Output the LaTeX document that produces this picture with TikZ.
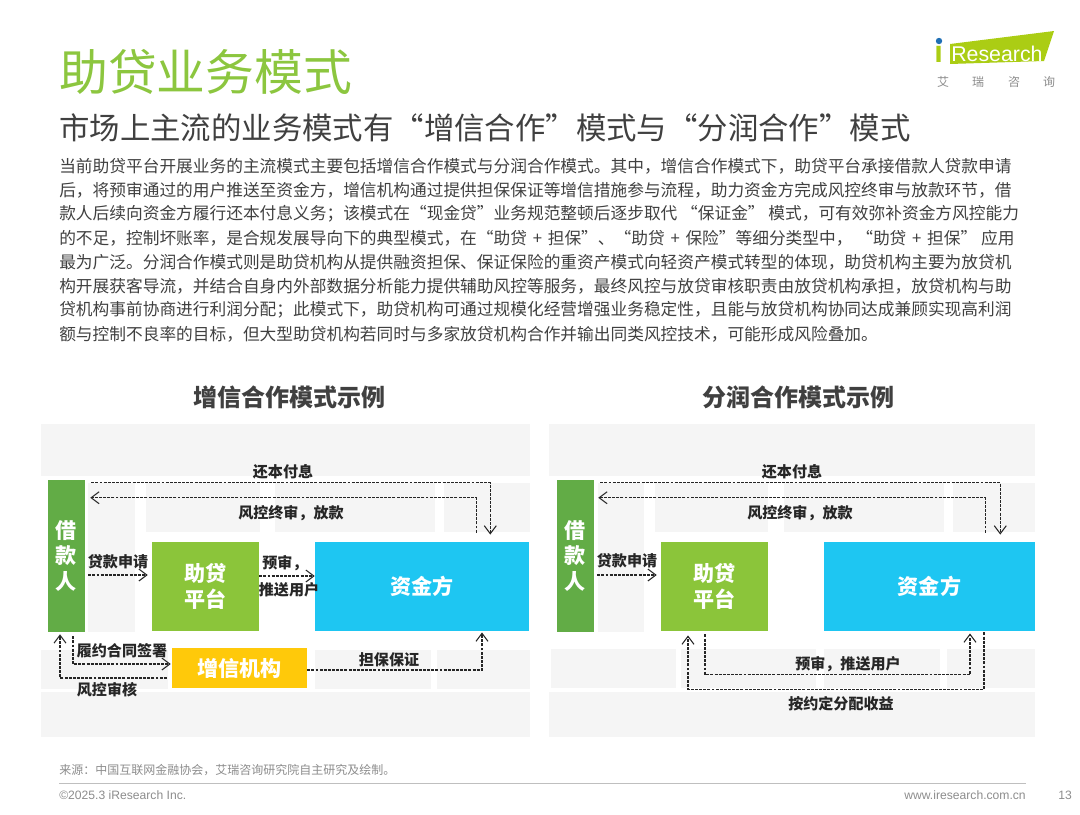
\documentclass[tikz,border=0pt]{standalone}
\usepackage{fontspec}
\setmainfont{Noto Sans CJK SC}
\newfontfamily\latinfont{Liberation Sans}
\usepackage{tikz}
\usetikzlibrary{arrows.meta, positioning}
\definecolor{titlegreen}{HTML}{8CC63F}
\definecolor{bodygrey}{HTML}{404040}
\definecolor{patchgrey}{HTML}{F5F5F5}
\definecolor{footgrey}{HTML}{8C8C8C}
\definecolor{lendgreen}{HTML}{62AC46}
\definecolor{platgreen}{HTML}{8BC53A}
\definecolor{fundblue}{HTML}{1EC6F2}
\definecolor{credyellow}{HTML}{FFC90A}
\definecolor{logogreen}{HTML}{ABCD14}
\definecolor{logoblue}{HTML}{1F6FB5}
\def\dou{^^^^ff0c}
\def\fen{^^^^ff1b}
\def\mao{^^^^ff1a}
\def\jia{\hspace{1.5pt} + \hspace{1.5pt}}

\begin{document}
\begin{tikzpicture}[x=0.75pt, y=-0.75pt, >={Straight Barb[length=6pt,width=9pt]},
    block/.style={fill=#1, text=white, font=\bfseries\fontsize{15.8}{19}\selectfont, align=center, inner sep=0pt},
    flow/.style={draw=black!85, line width=0.8pt, dash pattern=on 2.2pt off 0.9pt},
    tag/.style={font=\bfseries\fontsize{11.3}{13}\selectfont, text=black!85, inner sep=0pt, align=center},
    head/.style={font=\bfseries\fontsize{18}{22}\selectfont, text=bodygrey, inner sep=0pt},
    body/.style={anchor=west, font=\fontsize{12.53}{18}\selectfont, text=bodygrey, inner sep=0pt},
    foot/.style={font=\fontsize{9}{11}\selectfont, text=footgrey, inner sep=0pt}]
    \useasboundingbox (0,0) rectangle (1080,814);

    % title
    \node [anchor=west, inner sep=0pt, text=titlegreen, font=\fontsize{36.6}{44}\selectfont] (title) at (59,72) {助贷业务模式};
    \node [anchor=west, inner sep=0pt, text=bodygrey, font=\fontsize{22.8}{28}\selectfont] (subtitle) at (59,128) {市场上主流的业务模式有“增信合作”模式与“分润合作”模式};

    % logo
    \fill [logogreen] (950,44) -- (1054,31) -- (1044,61) -- (950,64) -- cycle;
    \fill [logoblue] (939,41) circle (3.2);
    \node [anchor=base west, inner sep=0pt, text=logogreen, font=\latinfont\bfseries\fontsize{23}{26}\selectfont] (logoi) at (934,62) {ı};
    \node [anchor=base west, inner sep=0pt, text=white, font=\latinfont\fontsize{16}{19}\selectfont] (logotext) at (951,61) {Research};
    \node [inner sep=0pt, text=footgrey, font=\fontsize{9}{11}\selectfont] (logoa) at (943,82) {艾};
    \node [inner sep=0pt, text=footgrey, font=\fontsize{9}{11}\selectfont] (logob) at (978,82) {瑞};
    \node [inner sep=0pt, text=footgrey, font=\fontsize{9}{11}\selectfont] (logoc) at (1014,82) {咨};
    \node [inner sep=0pt, text=footgrey, font=\fontsize{9}{11}\selectfont] (logod) at (1049,82) {询};

    % body text
    \node [body] (l1) at (59,166) {当前助贷平台开展业务的主流模式主要包括增信合作模式与分润合作模式。其中\dou{}增信合作模式下\dou{}助贷平台承接借款人贷款申请};
    \node [body] (l2) at (59,190) {后\dou{}将预审通过的用户推送至资金方\dou{}增信机构通过提供担保保证等增信措施参与流程\dou{}助力资金方完成风控终审与放款环节\dou{}借};
    \node [body] (l3) at (59,214) {款人后续向资金方履行还本付息义务\fen{}该模式在“现金贷”业务规范整顿后逐步取代 “保证金” 模式\dou{}可有效弥补资金方风控能力};
    \node [body] (l4) at (59,238) {的不足\dou{}控制坏账率\dou{}是合规发展导向下的典型模式\dou{}在“助贷\jia{}担保”、“助贷\jia{}保险”等细分类型中\dou{} “助贷\jia{}担保” 应用};
    \node [body] (l5) at (59,262) {最为广泛。分润合作模式则是助贷机构从提供融资担保、保证保险的重资产模式向轻资产模式转型的体现\dou{}助贷机构主要为放贷机};
    \node [body] (l6) at (59,286) {构开展获客导流\dou{}并结合自身内外部数据分析能力提供辅助风控等服务\dou{}最终风控与放贷审核职责由放贷机构承担\dou{}放贷机构与助};
    \node [body] (l7) at (59,310) {贷机构事前协商进行利润分配\fen{}此模式下\dou{}助贷机构可通过规模化经营增强业务稳定性\dou{}且能与放贷机构协同达成兼顾实现高利润};
    \node [body] (l8) at (59,334) {额与控制不良率的目标\dou{}但大型助贷机构若同时与多家放贷机构合作并输出同类风控技术\dou{}可能形成风险叠加。};

    \node [head] (headl) at (289,397) {增信合作模式示例};
    \node [head] (headr) at (798,397) {分润合作模式示例};

    % grey patches behind the charts
    \foreach \xa/\ya/\xb/\yb in {41/424/530/476, 88/483/135/632, 146/483/260/532, 275/483/435/532, 444/483/530/532,
        41/650/168/689, 315/650/431/689, 437/650/530/689, 41/692/530/737,
        549/424/1035/476, 598/483/644/632, 655/483/768/532, 784/483/944/532, 953/483/1035/532,
        551/649/676/688, 681/649/816/688, 824/649/940/688, 947/649/1035/688, 549/692/1035/737}
        \fill [patchgrey] (\xa,\ya) rectangle (\xb,\yb);

    % left chart
    \node [block=lendgreen, minimum width=27.75pt, minimum height=114pt] (bor1) at (66.5,556) {借\\款\\人};
    \node [block=platgreen, minimum width=80.25pt, minimum height=67pt] (plat1) at (205.5,586.5) {助贷\\平台};
    \node [block=fundblue, minimum width=160.5pt, minimum height=67pt] (fund1) at (422,586.5) {资金方};
    \node [block=credyellow, minimum width=101.25pt, minimum height=30pt] (cred) at (239.5,668) {增信机构};

    \node [tag] (t1) at (283,472) {还本付息};
    \node [tag] (t2) at (291,513) {风控终审\dou{}放款};
    \node [tag] (t3) at (118,562) {贷款申请};
    \node [tag] (t4) at (285,563) {预审\dou};
    \node [tag] (t5) at (289,590) {推送用户};
    \node [tag] (t6) at (122,651) {履约合同签署};
    \node [tag] (t7) at (107,690) {风控审核};
    \node [tag] (t8) at (389,660) {担保保证};

    \draw [flow, ->] ([shift={(6,3)}]bor1.north east) -| ([shift={(-39,-7)}]fund1.north east);
    \draw [flow, ->] ([shift={(-53,-9)}]fund1.north east) |- ([shift={(5,18)}]bor1.north east);
    \draw [flow, ->] ([shift={(3,19)}]bor1.east) -- ([shift={(-4,-11.5)}]plat1.west);
    \draw [flow, ->] ([shift={(0,-10.5)}]plat1.east) -- ([shift={(0,-10.5)}]fund1.west);
    \draw [flow, ->] ([shift={(6.5,4)}]bor1.south) |- ([shift={(-1,-4)}]cred.west);
    \draw [flow, ->] ([shift={(-5,10)}]cred.west) -| ([shift={(-6.5,2)}]bor1.south);
    \draw [flow, ->] ([shift={(0,2)}]cred.east) -| ([shift={(60,1)}]fund1.south);

    % right chart
    \node [block=lendgreen, minimum width=27.75pt, minimum height=114pt] (bor2) at (575.5,556) {借\\款\\人};
    \node [block=platgreen, minimum width=80.25pt, minimum height=67pt] (plat2) at (714.5,586.5) {助贷\\平台};
    \node [block=fundblue, minimum width=158.25pt, minimum height=67pt] (fund2) at (929.5,586.5) {资金方};

    \node [tag] (t9) at (792,472) {还本付息};
    \node [tag] (t10) at (800,513) {风控终审\dou{}放款};
    \node [tag] (t11) at (627,561) {贷款申请};
    \node [tag] (t12) at (848,664) {预审\dou{}推送用户};
    \node [tag] (t13) at (841,704) {按约定分配收益};

    \draw [flow, ->] ([shift={(6,3)}]bor2.north east) -| ([shift={(-35,-7)}]fund2.north east);
    \draw [flow, ->] ([shift={(-50,-9)}]fund2.north east) |- ([shift={(4,18)}]bor2.north east);
    \draw [flow, ->] ([shift={(3,19)}]bor2.east) -- ([shift={(-4,-11.5)}]plat2.west);
    \draw [flow, ->] ([shift={(-9.5,3)}]plat2.south) -- ++(0,40) -| ([shift={(40.5,2)}]fund2.south);
    \draw [flow, ->] ([shift={(54.5,1)}]fund2.south) -- ++(0,57) -| ([shift={(-26.5,4)}]plat2.south);

    % footer
    \node [foot, anchor=west] (source) at (59,770) {来源\mao{}中国互联网金融协会\dou{}艾瑞咨询研究院自主研究及绘制。};
    \draw [draw=black!25, line width=0.6pt] (59,783) -- (1026,783);
    \node [foot, anchor=west, font=\latinfont\fontsize{9.1}{11}\selectfont] (copy) at (59,795) {©2025.3 iResearch Inc.};
    \node [foot, anchor=east, font=\latinfont\fontsize{9.1}{11}\selectfont] (site) at (1026,795) {www.iresearch.com.cn};
    \node [foot, font=\latinfont\fontsize{9.1}{11}\selectfont] (page) at (1065,795) {13};
\end{tikzpicture}
\end{document}
